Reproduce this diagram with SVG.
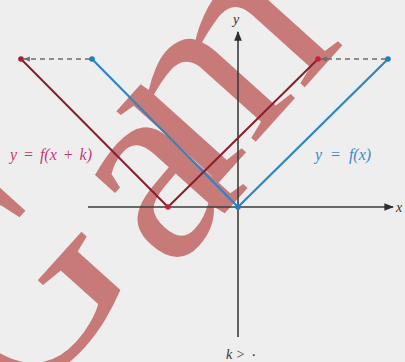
<svg xmlns="http://www.w3.org/2000/svg" width="405" height="362" viewBox="0 0 405 362">
<style>
.wm{font-family:"Liberation Serif",serif;fill:#c87a78}
.lbl{font-family:"Liberation Serif",serif;font-style:italic}
.ax{stroke:#3c3c3c;stroke-width:1.6;fill:none}
.blue{stroke:#2b86c6;stroke-width:2.2;fill:none}
.red{stroke:#86202e;stroke-width:2;fill:none}
.dash{stroke:#6e6e6e;stroke-width:1.3;stroke-dasharray:5 4;fill:none}
</style>
<defs>
<marker id="ah" viewBox="0 0 10 10" refX="9" refY="5" markerWidth="6" markerHeight="6" orient="auto"><path d="M0,1 L10,5 L0,9 Z" fill="#2e2e2e"/></marker>
<marker id="ahg" viewBox="0 0 10 10" refX="9" refY="5" markerWidth="5" markerHeight="5" orient="auto"><path d="M0,1 L10,5 L0,9 Z" fill="#6e6e6e"/></marker>
</defs>
<rect width="405" height="362" fill="#eeeeee"/>
<text class="wm" font-size="270" transform="translate(14,422) rotate(-48)">G<tspan dx="19" dy="17">a</tspan><tspan dx="-40" dy="-25">m</tspan></text>
<g id="axes">
<line class="ax" x1="88" y1="207" x2="393" y2="207" marker-end="url(#ah)"/>
<line class="ax" x1="238" y1="337" x2="238" y2="32" marker-end="url(#ah)"/>
<text class="lbl" x="396" y="212" font-size="14" fill="#333">x</text>
<text class="lbl" x="233" y="24" font-size="14" fill="#333">y</text>
</g>
<g id="connectors">
<line class="dash" x1="90" y1="59" x2="24" y2="59" marker-end="url(#ahg)"/>
<line class="dash" x1="386" y1="59" x2="321" y2="59" marker-end="url(#ahg)"/>
</g>
<g id="graph-f">
<polyline class="blue" points="92,59 238,207 388,59"/>
<circle cx="92" cy="59" r="2.8" fill="#1f7ec0"/>
<circle cx="388" cy="59" r="2.8" fill="#1f7ec0"/>
<circle cx="238" cy="207" r="2.8" fill="#1f7ec0"/>
<text class="lbl" x="315" y="160" font-size="16" fill="#3a8ac4" word-spacing="4">y = f(x)</text>
</g>
<g id="graph-shift">
<polyline class="red" points="21,59 168,207 318,59"/>
<circle cx="21" cy="59" r="2.8" fill="#a81e36"/>
<circle cx="318" cy="59" r="2.8" fill="#c8203e"/>
<circle cx="168" cy="207" r="2.8" fill="#c8203e"/>
<text class="lbl" x="10" y="160" font-size="16" fill="#c43a72" word-spacing="2">y = f(x + k)</text>
</g>
<text id="cond" class="lbl" x="226" y="359" font-size="14" fill="#333">k &gt; ۰</text>
</svg>
